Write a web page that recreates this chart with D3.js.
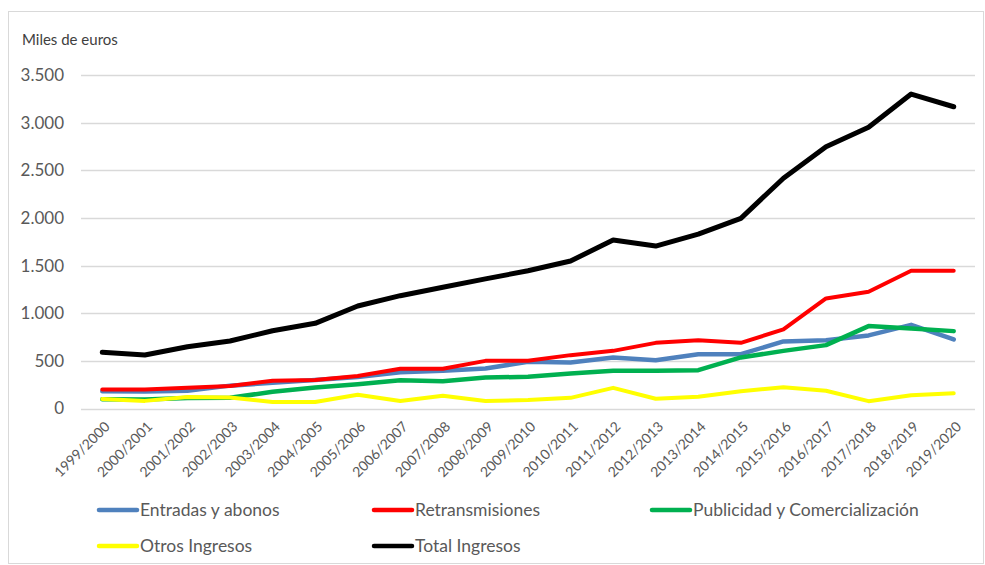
<meta charset="utf-8">
<script src="https://d3js.org/d3.v7.min.js"></script>
<style>
  body { margin: 0; background: #fff; }
  svg text { font-family: Lato, "Open Sans", sans-serif; fill: #595959; }
</style>
<svg width="985" height="565"></svg>
<script>
// temporadas
var seasons = ["1999/2000","2000/2001","2001/2002","2002/2003","2003/2004","2004/2005","2005/2006",
  "2006/2007","2007/2008","2008/2009","2009/2010","2010/2011","2011/2012","2012/2013","2013/2014",
  "2014/2015","2015/2016","2016/2017","2017/2018","2018/2019","2019/2020"];

// miles de euros
var entradas = [182, 178, 185, 240, 269, 300, 330, 380, 395, 420, 490, 483, 536, 507, 570, 570, 704, 717, 767, 878, 725];
var retrans  = [200, 200, 218, 236, 292, 300, 341, 418, 418, 500, 500, 560, 605, 689, 717, 689, 830, 1155, 1225, 1445, 1445];
var publi    = [98, 95, 110, 113, 175, 220, 255, 297, 287, 326, 332, 367, 395, 395, 402, 536, 605, 665, 865, 840, 812];
var otros    = [100, 80, 120, 115, 68, 68, 145, 78, 133, 78, 90, 112, 217, 102, 123, 182, 224, 186, 77, 140, 161];
var total    = [590, 561, 648, 708, 816, 894, 1076, 1184, 1272, 1360, 1446, 1548, 1768, 1705, 1831, 1996, 2416, 2747, 2951, 3300, 3167];

var yTicks = [0, 500, 1000, 1500, 2000, 2500, 3000, 3500];

var series = [
  { name: "Entradas y abonos", values: entradas, color: "#4F81BD", w: 4.5 },
  { name: "Retransmisiones", values: retrans, color: "#FF0000", w: 4 },
  { name: "Publicidad y Comercialización", values: publi, color: "#00B050", w: 4.5 },
  { name: "Otros Ingresos", values: otros, color: "#FFFF00", w: 4 },
  { name: "Total Ingresos", values: total, color: "#000000", w: 5 }
];

var svg = d3.select("svg");

// marco del grafico
svg.append("rect")
  .attr("x", 8.5).attr("y", 11.5).attr("width", 975).attr("height", 552)
  .attr("fill", "none").attr("stroke", "#D9D9D9");

var x = d3.scaleBand().domain(seasons).range([81, 975]);
var y = d3.scaleLinear().domain([0, 3500]).range([408.5, 75]);

// lineas de cuadricula
svg.append("g")
  .selectAll("line")
  .data(yTicks)
  .enter()
  .append("line")
  .attr("x1", 81).attr("x2", 975)
  .attr("y1", function(d) { return Math.round(y(d)) + 0.5; })
  .attr("y2", function(d) { return Math.round(y(d)) + 0.5; })
  .attr("stroke", "#D9D9D9")
  .attr("stroke-width", 1.5);

// etiquetas eje y
svg.append("g")
  .selectAll("text")
  .data(yTicks)
  .enter()
  .append("text")
  .attr("x", 64)
  .attr("y", function(d) { return y(d); })
  .attr("dy", "0.35em")
  .attr("text-anchor", "end")
  .style("font-size", "17px")
  .text(function(d) { return d3.format(",")(d).replace(/,/g, "."); });

svg.append("text")
  .attr("x", 22).attr("y", 45)
  .style("font-size", "15px")
  .style("fill", "#404040")
  .text("Miles de euros");

// etiquetas eje x
svg.append("g")
  .selectAll("text")
  .data(seasons)
  .enter()
  .append("text")
  .attr("transform", function(d) {
    return "translate(" + (x(d) + x.bandwidth() / 2 + 5) + ",424) rotate(-45)";
  })
  .attr("text-anchor", "end")
  .attr("dy", "0.35em")
  .style("font-size", "14px")
  .text(function(d) { return d; });

var line = d3.line()
  .x(function(d, i) { return x(seasons[i]) + x.bandwidth() / 2; })
  .y(function(d) { return y(d); });

svg.append("g")
  .selectAll("path")
  .data(series)
  .enter()
  .append("path")
  .attr("d", function(d) { return line(d.values); })
  .attr("fill", "none")
  .attr("stroke", function(d) { return d.color; })
  .attr("stroke-width", function(d) { return d.w; })
  .attr("stroke-linejoin", "round")
  .attr("stroke-linecap", "round");

// leyenda
var legendPos = [[97, 510], [372, 510], [650, 510], [97, 546], [372, 546]];
var legend = svg.append("g")
  .selectAll("g")
  .data(series)
  .enter()
  .append("g")
  .attr("transform", function(d, i) { return "translate(" + legendPos[i][0] + "," + legendPos[i][1] + ")"; });

legend.append("line")
  .attr("x1", 2).attr("x2", 40)
  .attr("stroke", function(d) { return d.color; })
  .attr("stroke-width", 4.5)
  .attr("stroke-linecap", "round");

legend.append("text")
  .attr("x", 43)
  .attr("dy", "0.35em")
  .style("font-size", "17.5px")
  .text(function(d) { return d.name; });
</script>
